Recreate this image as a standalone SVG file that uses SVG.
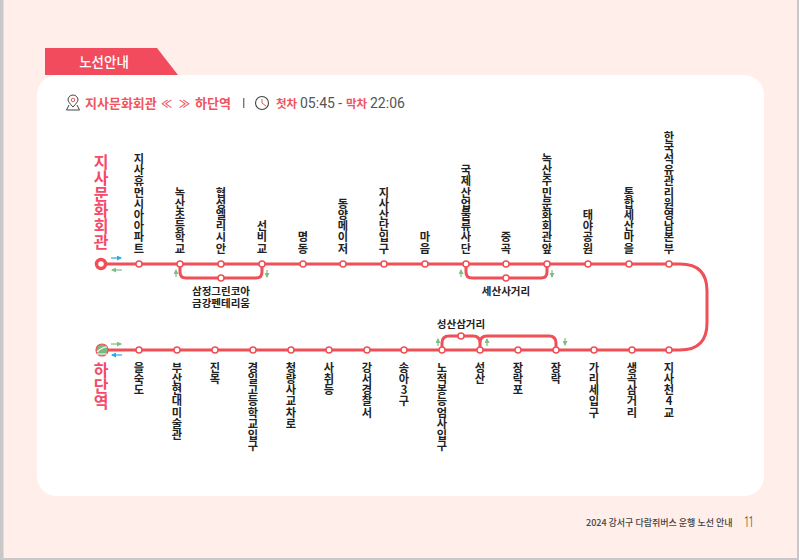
<svg xmlns="http://www.w3.org/2000/svg" width="799" height="560" viewBox="0 0 799 560">
<style>
text{font-family:"Noto Sans CJK KR","Noto Sans",sans-serif}
.v{writing-mode:vertical-rl;text-orientation:upright;font-size:11.2px;font-weight:700;fill:#222}
.t{text-anchor:end}
.h{font-size:10.5px;font-weight:700;fill:#222;text-anchor:middle}
.line{fill:none;stroke:#EF5057;stroke-width:3}
.st{fill:#fff;stroke:#EF5057;stroke-width:1.5}
.term{writing-mode:vertical-rl;text-orientation:upright;font-size:16px;font-weight:700;fill:#F34B68}
.red{fill:#F0555F;font-size:13px;font-weight:700}
.sm{font-size:11.5px}
.arr{font-size:11px;font-weight:700}
.gray{fill:#555;font-size:14px;font-weight:400;font-family:Roboto,"Noto Sans CJK KR",sans-serif}
.num{fill:#7a5c3c;font-size:14px;font-family:Roboto,sans-serif}
.ga{stroke:#7DBE84;stroke-width:1.2;fill:none}
.ba{stroke:#29ABE2;stroke-width:1.2;fill:none}
</style>
<defs>
<marker id="ag" markerWidth="5" markerHeight="5" refX="4" refY="2.5" orient="auto" markerUnits="userSpaceOnUse"><path d="M0 0L5 2.5L0 5Z" fill="#7DBE84"/></marker>
<marker id="ab" markerWidth="5" markerHeight="5" refX="4" refY="2.5" orient="auto" markerUnits="userSpaceOnUse"><path d="M0 0L5 2.5L0 5Z" fill="#29ABE2"/></marker>
</defs>
<rect width="799" height="560" fill="#FFEEEA"/>
<path id="edge" d="M0 0H3.5V558H797V0H799V560H0Z" fill="#C8C8C8"/>
<g id="tab"><path d="M45 48H157L178 75H45Z" fill="#F34B5E"/><text x="104" y="67" font-size="13.5" font-weight="500" fill="#fff" text-anchor="middle">노선안내</text></g>
<rect id="card" x="37" y="75" width="727" height="421" rx="20" fill="#fff"/>
<g id="header">
<g fill="none" stroke="#444" stroke-width="1"><path d="M73 107C70 104 68 101 68 100A5 5 0 0 1 78 100C78 101 76 104 73 107Z"/><circle cx="73" cy="100" r="1.8" stroke="#E55"/><path d="M69 105L66.500 110H79.500L77 105"/></g>
<text x="85" y="108" class="red">지사문화회관</text>
<text x="161" y="107.500" class="red arr">≪</text>
<text x="179" y="107.500" class="red arr">≫</text>
<text x="195" y="108" class="red">하단역</text>
<rect x="243" y="98" width="1.4" height="10" fill="#777"/>
<circle cx="262" cy="103" r="6.500" fill="none" stroke="#444" stroke-width="1.1"/><path d="M262 99V103L266 106" fill="none" stroke="#E55" stroke-width="1"/>
<text x="276" y="108" class="red sm">첫차</text>
<text x="300" y="108" class="gray">05:45 -</text>
<text x="346" y="108" class="red sm">막차</text>
<text x="370" y="108" class="gray">22:06</text>
</g>
<g id="connectors">
<path class="line" d="M101 264H680Q707 264 707 291V323Q707 350 680 350H101"/>
<path class="line" d="M180 264V272Q180 278 186 278H256Q262 278 262 272V264"/>
<path class="line" d="M466 264V272Q466 278 472 278H541Q547 278 547 272V264"/>
<path class="line" d="M442 350V343Q442 336 449 336H473Q480 336 480 343V350M480 350V343Q480 336 487 336H549Q556 336 556 343V350"/>
<path class="ba" d="M111 258H121" marker-end="url(#ab)"/>
<path class="ga" d="M122 270H112" marker-end="url(#ag)"/>
<path class="ga" d="M176 277V270" marker-end="url(#ag)"/>
<path class="ga" d="M267 270V277" marker-end="url(#ag)"/>
<path class="ga" d="M461 277V270" marker-end="url(#ag)"/>
<path class="ga" d="M552 270V277" marker-end="url(#ag)"/>
<path class="ga" d="M111 344H121" marker-end="url(#ag)"/>
<path class="ba" d="M122 355H112" marker-end="url(#ab)"/>
<path class="ga" d="M438 346V339" marker-end="url(#ag)"/>
<path class="ga" d="M487 346V339" marker-end="url(#ag)"/>
<path class="ga" d="M565 338V345" marker-end="url(#ag)"/>
</g>
<g id="terminal-start"><circle cx="101" cy="264" r="4.500" fill="#fff" stroke="#EF5057" stroke-width="3.500"/><text class="term t" x="101" y="250">지사문화회관</text></g>
<g id="terminal-end"><circle cx="102" cy="350" r="6" fill="#7CB87F" stroke="#EF5057" stroke-width="1.200"/><path d="M97 352Q102 347 107 347M97 354H107" stroke="#fff" stroke-width="1.200" fill="none"/><text class="term" x="101" y="362">하단역</text></g>
<g id="s01"><circle class="st" cx="139" cy="264" r="3"/><text class="v t" x="139" y="254">지사휴먼시아아파트</text></g>
<g id="s02"><circle class="st" cx="180" cy="264" r="3"/><text class="v t" x="180" y="254">녹산초등학교</text></g>
<g id="s03"><circle class="st" cx="221" cy="264" r="3"/><text class="v t" x="221" y="254">협성엘리시안</text></g>
<g id="s04"><circle class="st" cx="262" cy="264" r="3"/><text class="v t" x="262" y="254">선비교</text></g>
<g id="s05"><circle class="st" cx="303" cy="264" r="3"/><text class="v t" x="303" y="254">명동</text></g>
<g id="s06"><circle class="st" cx="343" cy="264" r="3"/><text class="v t" x="343" y="254">동양메이저</text></g>
<g id="s07"><circle class="st" cx="384" cy="264" r="3"/><text class="v t" x="384" y="254">지사산단입구</text></g>
<g id="s08"><circle class="st" cx="425" cy="264" r="3"/><text class="v t" x="425" y="254">마음</text></g>
<g id="s09"><circle class="st" cx="466" cy="264" r="3"/><text class="v t" x="466" y="254">국제산업물류사단</text></g>
<g id="s10"><circle class="st" cx="506" cy="264" r="3"/><text class="v t" x="506" y="254">중곡</text></g>
<g id="s11"><circle class="st" cx="547" cy="264" r="3"/><text class="v t" x="547" y="254">녹산주민문화회관앞</text></g>
<g id="s12"><circle class="st" cx="588" cy="264" r="3"/><text class="v t" x="588" y="254">태야공원</text></g>
<g id="s13"><circle class="st" cx="629" cy="264" r="3"/><text class="v t" x="629" y="254">통합세산마을</text></g>
<g id="s14"><circle class="st" cx="669" cy="264" r="3"/><text class="v t" x="669" y="254">한국석유관리원영남본부</text></g>
<g id="b1"><circle class="st" cx="221" cy="278" r="3"/><text class="h" x="221" y="295">삼정그린코아</text><text class="h" x="221" y="307">금강펜테리움</text></g>
<g id="b2"><circle class="st" cx="506" cy="278" r="3"/><text class="h" x="506" y="295">세산사거리</text></g>
<g id="b3"><circle class="st" cx="461" cy="336" r="3"/><text class="h" x="461" y="328">성산삼거리</text></g>
<g id="s15"><circle class="st" cx="669" cy="350" r="3"/><text class="v" x="669" y="362">지사천4교</text></g>
<g id="s16"><circle class="st" cx="632" cy="350" r="3"/><text class="v" x="632" y="362">생곡삼거리</text></g>
<g id="s17"><circle class="st" cx="594" cy="350" r="3"/><text class="v" x="594" y="362">가리세입구</text></g>
<g id="s18"><circle class="st" cx="556" cy="350" r="3"/><text class="v" x="556" y="362">장락</text></g>
<g id="s19"><circle class="st" cx="518" cy="350" r="3"/><text class="v" x="518" y="362">장락포</text></g>
<g id="s20"><circle class="st" cx="480" cy="350" r="3"/><text class="v" x="480" y="362">성산</text></g>
<g id="s21"><circle class="st" cx="442" cy="350" r="3"/><text class="v" x="442" y="362">노적봉능엄사입구</text></g>
<g id="s22"><circle class="st" cx="404" cy="350" r="3"/><text class="v" x="404" y="362">송아3구</text></g>
<g id="s23"><circle class="st" cx="367" cy="350" r="3"/><text class="v" x="367" y="362">강서경찰서</text></g>
<g id="s24"><circle class="st" cx="329" cy="350" r="3"/><text class="v" x="329" y="362">사취등</text></g>
<g id="s25"><circle class="st" cx="291" cy="350" r="3"/><text class="v" x="291" y="362">청량사교차로</text></g>
<g id="s26"><circle class="st" cx="253" cy="350" r="3"/><text class="v" x="253" y="362">경일고등학교입구</text></g>
<g id="s27"><circle class="st" cx="215" cy="350" r="3"/><text class="v" x="215" y="362">진목</text></g>
<g id="s28"><circle class="st" cx="177" cy="350" r="3"/><text class="v" x="177" y="362">부산현대미술관</text></g>
<g id="s29"><circle class="st" cx="139" cy="350" r="3"/><text class="v" x="139" y="362">을숙도</text></g>
<g id="footer"><text x="586" y="526" font-size="9" font-weight="500" fill="#444">2024 강서구 다람쥐버스 운행 노선 안내</text><text class="num" x="744.500" y="527" textLength="9" lengthAdjust="spacingAndGlyphs">11</text></g>
</svg>
